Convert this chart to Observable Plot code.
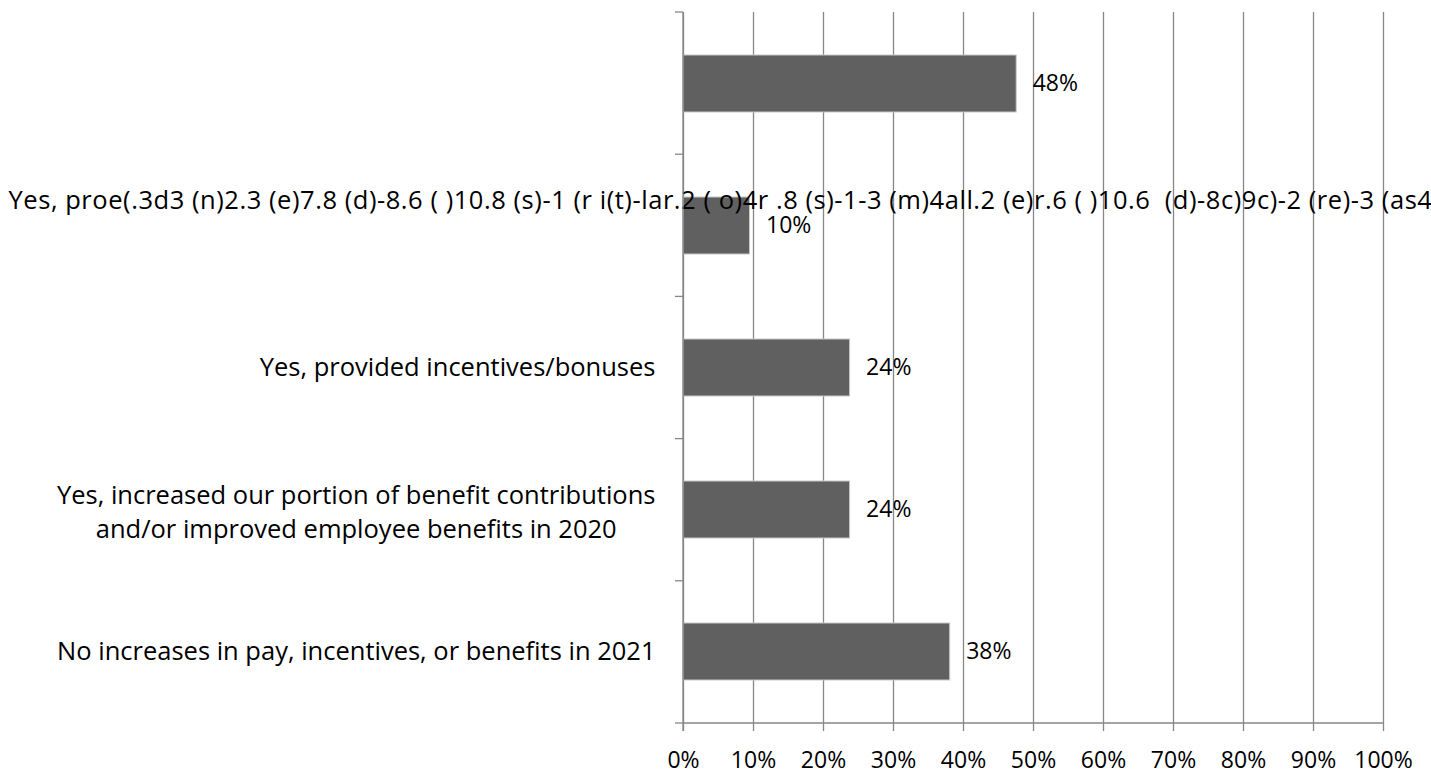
<!DOCTYPE html>
<html>
<head>
<meta charset="utf-8">
<script src="https://cdn.jsdelivr.net/npm/d3@7"></script>
<script src="https://cdn.jsdelivr.net/npm/@observablehq/plot@0.6"></script>
<style>
  html, body { margin: 0; padding: 0; background: #fff; }
  #chart text { white-space: pre; }
  #chart .garbled-label text { letter-spacing: 0.55px; }
</style>
</head>
<body>
<div id="chart"></div>
<script>
// ---- data ----
const categories = [
  "",
  "Yes, proe(.3d3 (n)2.3 (e)7.8 (d)-8.6 ( )10.8 (s)-1 (r i(t)-lar.2 ( o)4r .8 (s)-1-3 (m)4all.2 (e)r.6 ( )10.6  (d)-8c)9c)-2 (re)-3 (as4-",
  "Yes, provided incentives/bonuses",
  "Yes, increased our portion of benefit contributions\nand/or improved employee benefits in 2020",
  "No increases in pay, incentives, or benefits in 2021"
];
const values = [47.6, 9.5, 23.8, 23.8, 38.1];
const valueLabels = ["48%", "10%", "24%", "24%", "38%"];
const xTicks = [0, 10, 20, 30, 40, 50, 60, 70, 80, 90, 100];
const xTickLabels = ["0%", "10%", "20%", "30%", "40%", "50%", "60%", "70%", "80%", "90%", "100%"];

const rows = categories.map((c, i) => ({cat: c, value: values[i], label: valueLabels[i]}));
const garbled = rows.filter((d, i) => i === 1);
const singleLabels = rows.filter((d, i) => i !== 1 && !d.cat.includes("\n"));
const multiLabels = rows.filter((d) => d.cat.includes("\n"));

const FONT = "'Open Sans', 'Noto Sans', sans-serif";
const GRID = "#878787";

const chart = Plot.plot({
  width: 1431,
  height: 775,
  marginLeft: 683,
  marginRight: 48,
  marginTop: 12,
  marginBottom: 52,
  style: {fontFamily: FONT, fontSize: "23px", color: "#000", background: "#fff"},
  x: {domain: [0, 100], axis: null},
  y: {domain: categories, paddingInner: 0.6, paddingOuter: 0.3, axis: null},
  marks: [
    Plot.ruleX(xTicks, {x: d => d, stroke: GRID, strokeWidth: 1.3}),
    Plot.barX(rows, {x: "value", y: "cat", fill: "#606060", stroke: "#c8c8c8", strokeWidth: 1}),
    Plot.text(rows, {x: "value", y: "cat", text: "label", textAnchor: "start", dx: 16, fill: "#000", fontSize: 23}),
    Plot.axisX(xTicks, {
      tickSize: 8, tickPadding: 20, fontSize: 23, stroke: GRID, fill: "#000",
      tickFormat: d => xTickLabels[xTicks.indexOf(d)], label: null
    }),
    Plot.text(singleLabels, {y: "cat", text: "cat", frameAnchor: "left", textAnchor: "end", dx: -28, fontSize: 25.5, fill: "#000"}),
    Plot.text(multiLabels, {y: "cat", text: "cat", frameAnchor: "left", textAnchor: "end", dx: -28, fontSize: 25.5, lineHeight: 1.33, fill: "#000", className: "multi-label"}),
    Plot.text(garbled, {y: "cat", text: "cat", frameAnchor: "left", textAnchor: "start", dx: -675, dy: -25, fontSize: 25.5, fill: "#000", className: "garbled-label"})
  ]
});

document.getElementById("chart").appendChild(chart);

// ---- axis lines and band boundary ticks (Excel style) ----
const svg = d3.select(chart);
svg.selectAll("[aria-label='x-axis tick'] path, [aria-label='x-axis tick'] line").attr("stroke", GRID).attr("stroke-width", 1.3);
const ys = chart.scale("y");
const xs = chart.scale("x");
const [y0, y1] = ys.range;
const n = categories.length;
const boundaries = d3.range(n + 1).map(i => y0 + i * (y1 - y0) / n);
const gAxis = svg.append("g").attr("stroke", GRID).attr("stroke-width", 1.3);
const x0 = xs.apply(0), x100 = xs.apply(100);
boundaries.forEach(b => {
  gAxis.append("line").attr("x1", x0 - 8).attr("x2", x0).attr("y1", b).attr("y2", b);
});
gAxis.append("line").attr("x1", x0).attr("x2", x100).attr("y1", y1).attr("y2", y1);
gAxis.append("line").attr("x1", x0).attr("x2", x0).attr("y1", y0).attr("y2", y1 + 8);

// ---- center the lines of the two-line category label ----
svg.selectAll(".multi-label text").each(function () {
  const t = d3.select(this);
  const spans = t.selectAll("tspan");
  let w = 0;
  spans.each(function () { w = Math.max(w, this.getComputedTextLength()); });
  t.attr("text-anchor", "middle");
  spans.attr("x", -w / 2);
});
</script>
</body>
</html>
